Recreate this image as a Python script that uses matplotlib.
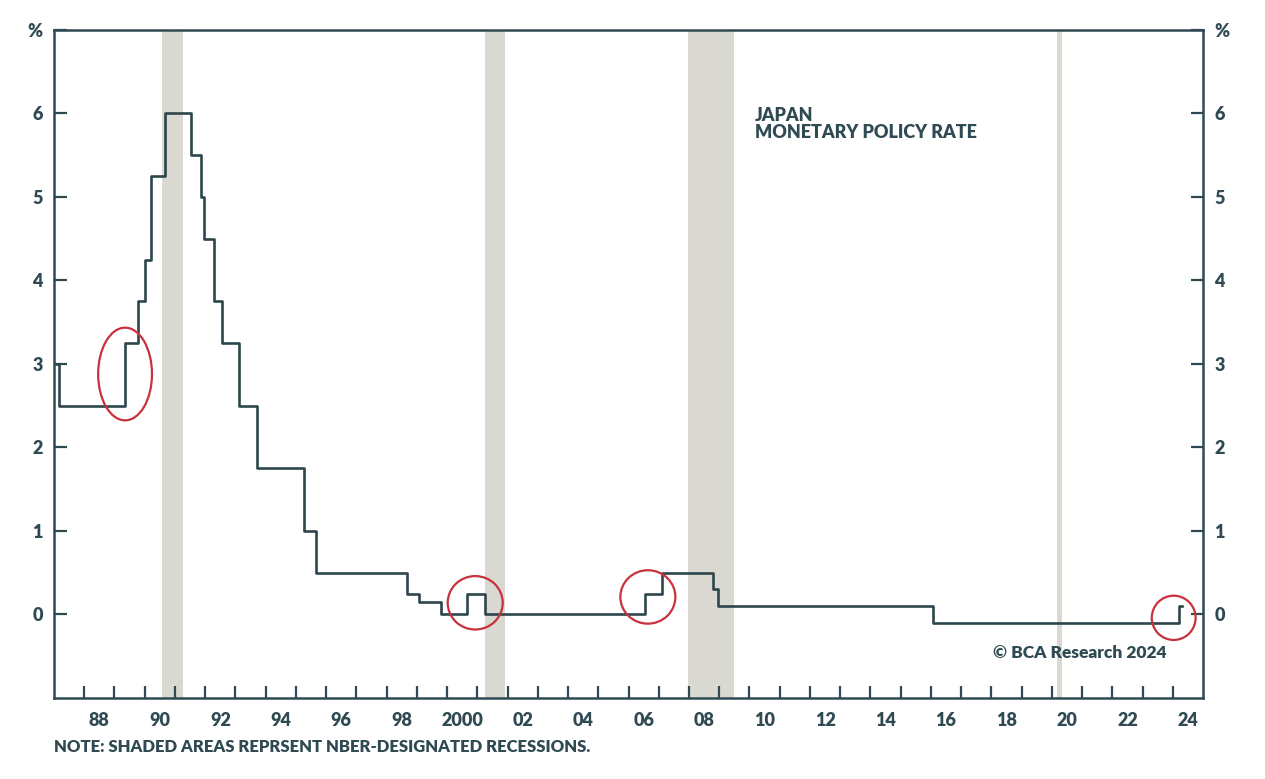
import matplotlib
matplotlib.use("Agg")
import matplotlib.pyplot as plt
from matplotlib.patches import Ellipse
from matplotlib.ticker import FixedLocator, NullFormatter

# BOJ policy rate, change points (decimal year, % level from that date)
rate_dates = [1987.08, 1987.15, 1989.35, 1989.78, 1990.0, 1990.22, 1990.66,
              1991.53, 1991.87, 1991.95, 1992.3, 1992.57, 1993.12, 1993.7,
              1995.28, 1995.68, 1998.68, 1999.08, 1999.8, 2000.65, 2001.25,
              2006.55, 2007.12, 2008.8, 2008.97, 2016.08, 2024.2, 2024.3]
rate_values = [3.0, 2.5, 3.25, 3.75, 4.25, 5.25, 6.0,
               5.5, 5.0, 4.5, 3.75, 3.25, 2.5, 1.75,
               1.0, 0.5, 0.25, 0.15, 0.0, 0.25, 0.0,
               0.25, 0.5, 0.3, 0.1, -0.1, 0.1, 0.1]

# NBER recessions
rec_start = [1990.58, 2001.25, 2007.98, 2020.17]
rec_end = [1991.25, 2001.92, 2009.5, 2020.33]

# red highlight circles: centre date, centre level, width (yrs), height (%)
circ_x = [1989.35, 2000.93, 2006.64, 2024.03]
circ_y = [2.88, 0.14, 0.21, -0.04]
circ_w = [1.78, 1.82, 1.82, 1.45]
circ_h = [1.11, 0.64, 0.64, 0.53]

year_ticks = list(range(1988, 2025))
label_years = list(range(1988, 2025, 2))
year_labels = ["2000" if y == 2000 else "%02d" % (y % 100) for y in label_years]
y_ticks = [0, 1, 2, 3, 4, 5, 6, 7]
y_labels = ["0", "1", "2", "3", "4", "5", "6", "%"]

ink = "#2f4a52"
line_col = "#2c464c"
shade = "#d9d9d1"
red = "#c8323c"

plt.rcParams["font.family"] = ["Lato", "DejaVu Sans"]
plt.rcParams["font.weight"] = "heavy"

fig = plt.figure(figsize=(12.65, 7.79), dpi=100)
ax = fig.add_axes([0.0427, 0.104, 0.9083, 0.8575])

for s, e in zip(rec_start, rec_end):
    ax.axvspan(s, e, color=shade, lw=0, zorder=0)

ax.step(rate_dates, rate_values, where="post", color=line_col, lw=1.9, zorder=2)

for cx, cy, w, h in zip(circ_x, circ_y, circ_w, circ_h):
    ax.add_patch(Ellipse((cx, cy), w, h, fill=False, ec=red, lw=1.6, zorder=3))

ax.set_xlim(1987.0, 2025.0)
ax.set_ylim(-1, 7)

for sp in ax.spines.values():
    sp.set_color(ink)
    sp.set_linewidth(1.8)

# year ticks with labels centred between them
ax.xaxis.set_major_locator(FixedLocator(year_ticks))
ax.xaxis.set_major_formatter(NullFormatter())
ax.xaxis.set_minor_locator(FixedLocator([y + 0.5 for y in label_years]))
ax.set_xticklabels(year_labels, minor=True)
ax.tick_params(axis="x", which="major", direction="in", length=9, width=1.6,
               color=ink)
ax.tick_params(axis="x", which="minor", length=0, pad=10, labelsize=13,
               labelcolor=ink)

ax.set_yticks(y_ticks)
ax.set_yticklabels(y_labels)
ax.tick_params(axis="y", direction="in", length=9, width=1.6, color=ink,
               labelsize=13, labelcolor=ink, pad=8,
               right=True, labelright=True)

ax.text(0.61, 0.885, "JAPAN\nMONETARY POLICY RATE", transform=ax.transAxes,
        ha="left", va="top", fontsize=13, color=ink, linespacing=1.0)
ax.text(0.968, 0.067, "\u00a9 BCA Research 2024", transform=ax.transAxes,
        ha="right", va="center", fontsize=12.5, color=ink)
fig.text(0.043, 0.041, "NOTE: SHADED AREAS REPRSENT NBER-DESIGNATED RECESSIONS.",
         ha="left", va="center", fontsize=12, color=ink)

fig.savefig("out.png", dpi=100)
